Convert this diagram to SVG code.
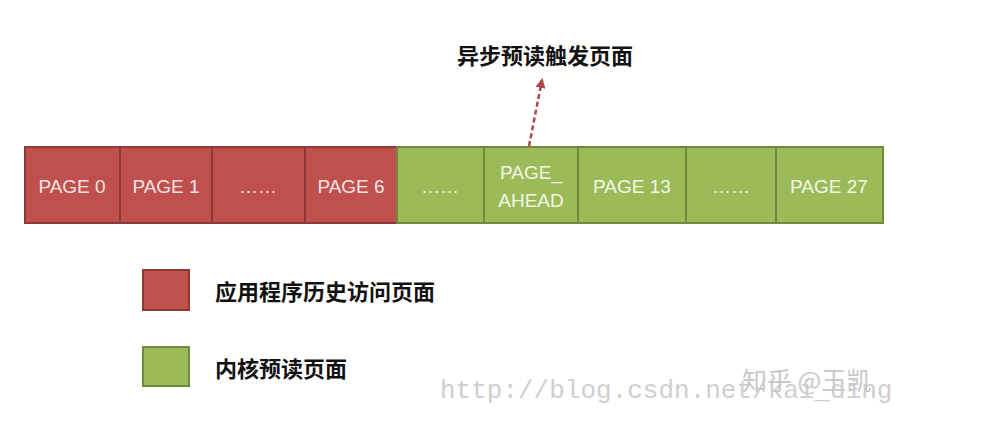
<svg xmlns="http://www.w3.org/2000/svg" width="981" height="421" viewBox="0 0 981 421">
<style>
.red{fill:#c0504d;stroke:#8c3a37;stroke-width:2}
.green{fill:#9bbb59;stroke:#6f8a3a;stroke-width:2}
.t{font-family:"Liberation Sans","Noto Sans",sans-serif;font-size:19px;text-anchor:middle;dominant-baseline:central}
.tr{fill:#f6e4e2}
.tg{fill:#f3f7e6}
.cj{font-family:"Noto Sans CJK SC",sans-serif;font-size:22px;font-weight:bold;fill:#111}
.wm{font-family:"Liberation Mono",monospace;font-size:26px;fill:#cfcfcf}
</style>
<defs>
<marker id="ah" viewBox="0 0 10 10" refX="8" refY="5" markerWidth="4" markerHeight="4" orient="auto">
<path d="M0,0 L10,5 L0,10 z" fill="#b04848"/>
</marker>
</defs>
<rect width="981" height="421" fill="#ffffff"/>
<g id="p0"><rect class="red" x="25" y="147" width="95" height="76"/><text class="t tr" x="72" y="186">PAGE 0</text></g>
<g id="p1"><rect class="red" x="120" y="147" width="92" height="76"/><text class="t tr" x="166" y="186">PAGE 1</text></g>
<g id="p2"><rect class="red" x="212" y="147" width="93" height="76"/><text class="t tr" x="258" y="186">……</text></g>
<g id="p6"><rect class="red" x="305" y="147" width="92" height="76"/><text class="t tr" x="351" y="186">PAGE 6</text></g>
<g id="g1"><rect class="green" x="397" y="147" width="87" height="76"/><text class="t tg" x="440" y="186">……</text></g>
<g id="pa"><rect class="green" x="484" y="147" width="94" height="76"/><text class="t tg" x="531" y="172">PAGE_</text><text class="t tg" x="531" y="200">AHEAD</text></g>
<g id="p13"><rect class="green" x="578" y="147" width="108" height="76"/><text class="t tg" x="632" y="186">PAGE 13</text></g>
<g id="g2"><rect class="green" x="686" y="147" width="90" height="76"/><text class="t tg" x="731" y="186">……</text></g>
<g id="p27"><rect class="green" x="776" y="147" width="107" height="76"/><text class="t tg" x="829" y="186">PAGE 27</text></g>
<g id="connectors">
<line x1="529" y1="146" x2="542" y2="80" stroke="#b04848" stroke-width="2.5" stroke-dasharray="5,3" marker-end="url(#ah)"/>
</g>
<g id="trigger-label"><text class="cj" x="545" y="64" text-anchor="middle">异步预读触发页面</text></g>
<g id="legend-red"><rect class="red" x="143" y="270" width="46" height="40"/><text class="cj" x="215" y="300">应用程序历史访问页面</text></g>
<g id="legend-green"><rect class="green" x="143" y="347" width="46" height="39"/><text class="cj" x="215" y="377">内核预读页面</text></g>
<g id="watermark">
<text class="wm" x="440" y="398">http://blog.csdn.net/kai_ding</text>
<text x="742" y="390" font-family="Noto Sans CJK SC,sans-serif" font-size="25" fill="#c8c8c8">知乎 @王凯</text>
</g>
</svg>
